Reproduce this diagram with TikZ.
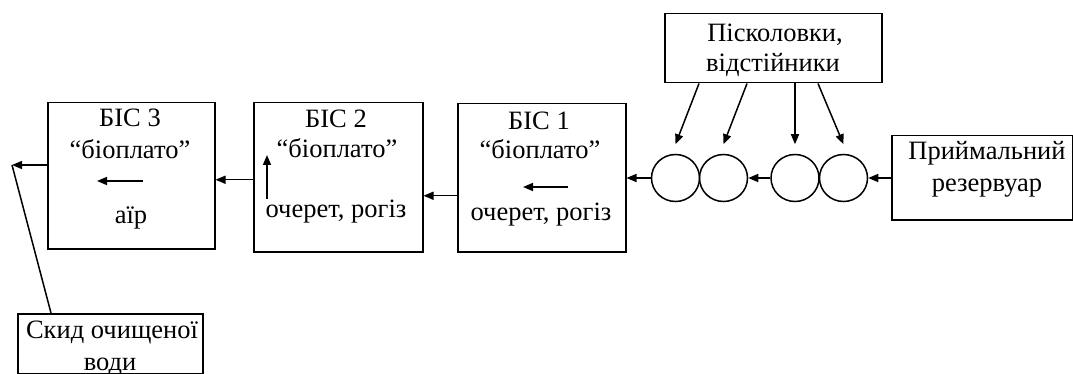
\documentclass[tikz,border=0pt]{standalone}
\usepackage{fontspec}
\setmainfont{Liberation Serif}
\usetikzlibrary{arrows.meta,shapes.geometric}
\begin{document}
\begin{tikzpicture}[x=1pt,y=-1pt,
  box/.style={draw,line width=1.5pt,rectangle,inner sep=0pt,anchor=north west},
  tank/.style={draw,line width=1.5pt,ellipse,inner sep=0pt,minimum width=48pt,minimum height=47pt},
  lbl/.style={inner sep=0pt,anchor=base,font=\fontsize{26.5}{30}\selectfont},
  flow/.style={line width=1.5pt,-{Triangle[length=10pt,width=8pt]}},
  wire/.style={line width=1.5pt}]
\useasboundingbox (0,0) rectangle (1073,374);

% treatment stages
\node[box,minimum width=167pt,minimum height=146pt] (bis3) at (47,102) {};
\node[box,minimum width=169pt,minimum height=149pt] (bis2) at (253,102) {};
\node[box,minimum width=168pt,minimum height=148pt] (bis1) at (457,103) {};
\node[box,minimum width=217pt,minimum height=69pt] (pisk) at (664,13) {};
\node[box,minimum width=181pt,minimum height=84pt] (recv) at (891,135) {};
\node[box,minimum width=185pt,minimum height=60pt] (skyd) at (17,313) {};

% sand traps
\node[tank] (c1) at (675.5,178) {};
\node[tank] (c2) at (723.5,178) {};
\node[tank] (c3) at (795,178) {};
\node[tank] (c4) at (843.5,178) {};

% labels
\node[lbl] (t3a) at (130,127) {БІС 3};
\node[lbl] (t3b) at (130,159) {“біоплато”};
\node[lbl] (t3c) at (131,223) {аїр};
\node[lbl] (t2a) at (336,128) {БІС 2};
\node[lbl] (t2b) at (337,158) {“біоплато”};
\node[lbl] (t2c) at (336,218) {очерет, рогіз};
\node[lbl] (t1a) at (539,130) {БІС 1};
\node[lbl] (t1b) at (540,159) {“біоплато”};
\node[lbl] (t1c) at (541,220) {очерет, рогіз};
\node[lbl] (tpa) at (775,42) {Пісколовки,};
\node[lbl] (tpb) at (773,72) {відстійники};
\node[lbl] (tra) at (987,160) {Приймальний};
\node[lbl] (trb) at (987,192) {резервуар};
\node[lbl] (tsa) at (112,338) {Скид очищеної};
\node[lbl] (tsb) at (110,370) {води};

% flow between units
\draw[flow] (recv.west |- c4.east) -- (c4.east);
\draw[flow] (c3.west) -- (c2.east);
\draw[flow] (c1.west) -- (c1.west -| bis1.east);
\draw[flow] ([yshift=-18pt]bis1.west) -- ([yshift=-18pt]bis1.west -| bis2.east);
\draw[flow] ([yshift=-2.5pt]bis2.west) -- ([yshift=-2.5pt]bis2.west -| bis3.east);
\coordinate (out) at (12,165);
\draw[flow] (bis3.west |- out) -- (out);
\draw[wire] ([xshift=34pt]skyd.north west) -- (out);

% sediment feed from the settling tanks
\draw[flow] ([xshift=35pt]pisk.south west) -- ([yshift=9.5pt]c1.north);
\draw[flow] ([xshift=83pt]pisk.south west) -- ([yshift=9.5pt]c2.north);
\draw[flow] ([xshift=131pt]pisk.south west) -- ([yshift=9.5pt]c3.north);
\draw[flow] ([xshift=154pt]pisk.south west) -- ([yshift=9.5pt]c4.north);

% flow direction inside the basins
\coordinate (a3s) at (143,181); \coordinate (a3e) at (97,181);
\coordinate (a2s) at (267,199); \coordinate (a2e) at (267,155);
\coordinate (a1s) at (568,187); \coordinate (a1e) at (523,187);
\draw[flow] (a3s) -- (a3e);
\draw[flow] (a2s) -- (a2e);
\draw[flow] (a1s) -- (a1e);
\end{tikzpicture}
\end{document}
